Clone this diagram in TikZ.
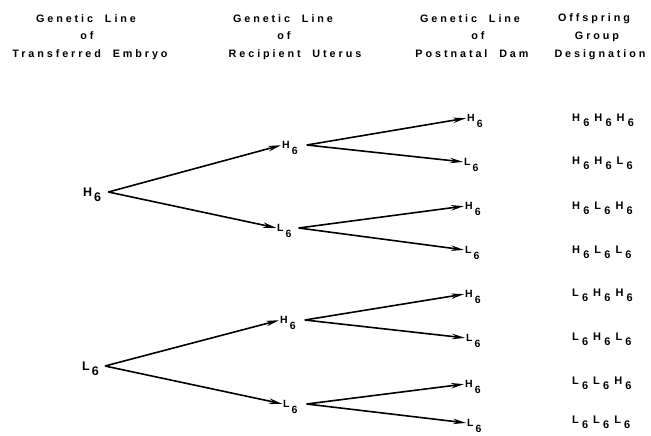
\documentclass[tikz,border=0pt]{standalone}
\usepackage{fontspec}
\setmainfont{Liberation Sans}
\newfontfamily\headfont{Liberation Sans}[LetterSpace=27,WordSpace=2]
\usetikzlibrary{arrows.meta}

% letter with a lowered "6"
\newcommand\gl[1]{#1\kern2pt\smash{\raisebox{-5.5pt}{6}}}
% offspring designation element
\newcommand\og[1]{#1\kern3.2pt\raisebox{-5pt}{6}\kern5pt}

\tikzset{
  head/.style={font=\headfont\bfseries\fontsize{10.8}{11}\selectfont, anchor=base, inner sep=0pt},
  gen/.style={font=\bfseries\fontsize{10.5}{11}\selectfont, anchor=west, inner sep=0pt},
  root/.style={gen, font=\bfseries\fontsize{12.5}{13}\selectfont},
  desig/.style={font=\bfseries\fontsize{11}{11}\selectfont, anchor=west, inner sep=0pt},
  arr/.style={-{Stealth[length=13pt,width=5.5pt]}, line width=1.6pt, shorten >=1pt},
}

\begin{document}
\begin{tikzpicture}[x=1pt,y=-1pt]
\useasboundingbox (0,0) rectangle (651,436);

% column headings
\node[head] (h11) at (86,23) {Genetic Line};
\node[head] (h12) at (87,40) {of};
\node[head] (h13) at (90,58) {Transferred Embryo};
\node[head] (h21) at (283,23) {Genetic Line};
\node[head] (h22) at (284,40) {of};
\node[head] (h23) at (295,58) {Recipient Uterus};
\node[head] (h31) at (470,23) {Genetic Line};
\node[head] (h32) at (478,40) {of};
\node[head] (h33) at (472,58) {Postnatal Dam};
\node[head] (h41) at (594,22) {Offspring};
\node[head] (h42) at (597,40) {Group};
\node[head] (h43) at (600,58) {Designation};

% transferred embryo
\node[root] (rH) at (83,192) {\gl{H}};
\node[root] (rL) at (82,366) {\gl{L}};

% recipient uterus
\node[gen] (mHH) at (282,145) {\gl{H}};
\node[gen] (mHL) at (277,228) {\gl{L}};
\node[gen] (mLH) at (280,320) {\gl{H}};
\node[gen] (mLL) at (283,404) {\gl{L}};

% postnatal dam
\node[gen] (d1) at (467,118) {\gl{H}};
\node[gen] (d2) at (464,162) {\gl{L}};
\node[gen] (d3) at (465,206) {\gl{H}};
\node[gen] (d4) at (465,250) {\gl{L}};
\node[gen] (d5) at (465,294) {\gl{H}};
\node[gen] (d6) at (466,338) {\gl{L}};
\node[gen] (d7) at (465,384) {\gl{H}};
\node[gen] (d8) at (467,423) {\gl{L}};

% offspring group designations
\node[desig] (o1) at (572,120) {\og{H}\og{H}\og{H}};
\node[desig] (o2) at (572,163) {\og{H}\og{H}\og{L}};
\node[desig] (o3) at (572,208) {\og{H}\og{L}\og{H}};
\node[desig] (o4) at (572,252) {\og{H}\og{L}\og{L}};
\node[desig] (o5) at (572,295) {\og{L}\og{H}\og{H}};
\node[desig] (o6) at (572,339) {\og{L}\og{H}\og{L}};
\node[desig] (o7) at (572,383) {\og{L}\og{L}\og{H}};
\node[desig] (o8) at (572,422) {\og{L}\og{L}\og{L}};

% branches
\draw[arr] ([xshift=7pt]rH.east) -- (mHH.west);
\draw[arr] ([xshift=7pt]rH.east) -- (mHL.west);
\draw[arr] ([xshift=6pt]rL.east) -- (mLH.west);
\draw[arr] ([xshift=6pt]rL.east) -- (mLL.west);

\draw[arr] ([xshift=9pt]mHH.east) -- (d1.west);
\draw[arr] ([xshift=9pt]mHH.east) -- (d2.west);
\draw[arr] ([xshift=7pt]mHL.east) -- (d3.west);
\draw[arr] ([xshift=7pt]mHL.east) -- (d4.west);
\draw[arr] ([xshift=9pt]mLH.east) -- (d5.west);
\draw[arr] ([xshift=9pt]mLH.east) -- (d6.west);
\draw[arr] ([xshift=9pt]mLL.east) -- (d7.west);
\draw[arr] ([xshift=9pt]mLL.east) -- (d8.west);
\end{tikzpicture}
\end{document}
